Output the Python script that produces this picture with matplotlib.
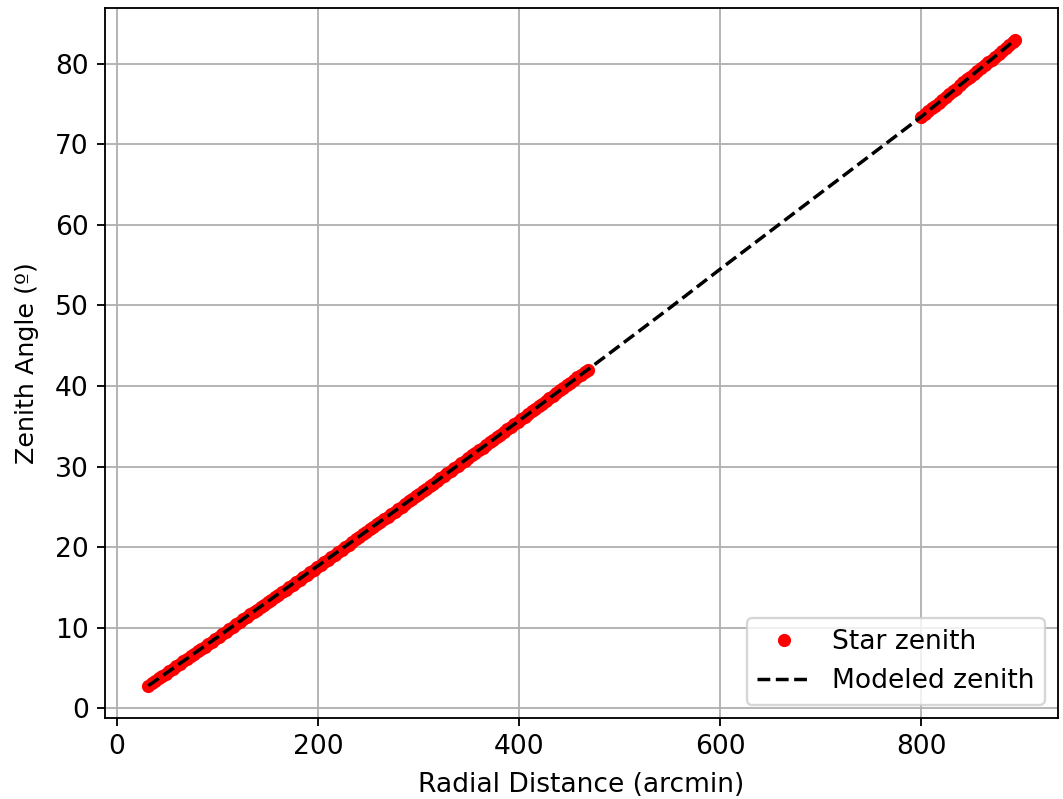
import matplotlib
matplotlib.use("Agg")
import matplotlib.pyplot as plt

plt.rcParams['font.size'] = 11.5

# measured star positions: radial distance on the sensor (arcmin) vs zenith angle (deg)
# inner field
inner_r = [31, 34.5, 38, 41.5, 45, 48.5, 52, 55.5, 59, 62.5, 66, 69.5, 73,
           76.5, 80, 83.5, 87, 90.5, 94, 97.5, 101, 104.5, 108, 111.5, 115,
           118.5, 122, 125.5, 129, 132.5, 136, 139.5, 143, 146.5, 150, 153.5,
           157, 160.5, 164, 167.5, 171, 174.5, 178, 181.5, 185, 188.5, 192,
           195.5, 199, 202.5, 206, 209.5, 213, 216.5, 220, 223.5, 227, 230.5,
           234, 237.5, 241, 244.5, 248, 251.5, 255, 258.5, 262, 265.5, 269,
           272.5, 276, 279.5, 283, 286.5, 290, 293.5, 297, 300.5, 304, 307.5,
           311, 314.5, 318, 321.5, 325, 328.5, 332, 335.5, 339, 342.5, 346,
           349.5, 353, 356.5, 360, 363.5, 367, 370.5, 374, 377.5, 381, 384.5,
           388, 391.5, 395, 398.5, 402, 405.5, 409, 412.5, 416, 419.5, 423,
           426.5, 430, 433.5, 437, 440.5, 444, 447.5, 451, 454.5, 458, 461.5,
           465, 468]
inner_z = [2.80, 3.10, 3.40, 3.71, 4.01, 4.31, 4.62, 4.92, 5.22, 5.53, 5.83,
           6.13, 6.44, 6.74, 7.05, 7.35, 7.66, 7.96, 8.27, 8.57, 8.88, 9.18,
           9.49, 9.80, 10.10, 10.41, 10.72, 11.02, 11.33, 11.64, 11.95, 12.25,
           12.56, 12.87, 13.18, 13.49, 13.80, 14.10, 14.41, 14.72, 15.03,
           15.34, 15.65, 15.96, 16.27, 16.58, 16.89, 17.20, 17.52, 17.83,
           18.14, 18.45, 18.76, 19.07, 19.39, 19.70, 20.01, 20.32, 20.64,
           20.95, 21.26, 21.58, 21.89, 22.20, 22.52, 22.83, 23.15, 23.46,
           23.78, 24.09, 24.41, 24.72, 25.04, 25.35, 25.67, 25.99, 26.30,
           26.62, 26.94, 27.25, 27.57, 27.89, 28.21, 28.52, 28.84, 29.16,
           29.48, 29.80, 30.12, 30.43, 30.75, 31.07, 31.39, 31.71, 32.03,
           32.35, 32.67, 32.99, 33.31, 33.63, 33.96, 34.28, 34.60, 34.92,
           35.24, 35.56, 35.89, 36.21, 36.53, 36.85, 37.18, 37.50, 37.82,
           38.14, 38.47, 38.79, 39.12, 39.44, 39.77, 40.09, 40.42, 40.74,
           41.07, 41.39, 41.72, 42.00]
# outer field
outer_r = [800, 803.5, 807, 810.5, 814, 817.5, 821, 824.5, 828, 831.5, 835,
           838.5, 842, 845.5, 849, 852.5, 856, 859.5, 863, 866.5, 870, 873.5,
           877, 880.5, 884, 887.5, 891, 893]
outer_z = [73.4, 73.75, 74.1, 74.45, 74.8, 75.15, 75.5, 75.85, 76.2, 76.55,
           76.9, 77.3, 77.7, 78.05, 78.4, 78.75, 79.1, 79.45, 79.8, 80.15,
           80.5, 80.85, 81.2, 81.55, 81.9, 82.3, 82.7, 82.9]

# fitted lens model, sampled along the full range
model_r = [31, 100, 200, 300, 400, 468, 550, 600, 700, 800, 850, 893]
model_z = [2.8, 8.85, 17.7, 26.6, 35.7, 42.0, 49.7, 54.5, 63.95, 73.4, 78.5, 82.9]

fig = plt.figure(figsize=(1063 / 166, 799 / 166), dpi=166)
ax = fig.add_axes([105 / 1063, 1 - 718 / 799, (1058 - 105) / 1063, (718 - 8) / 799])

ax.plot(inner_r + outer_r, inner_z + outer_z, 'o', color='red', markersize=4.7,
        linestyle='none', label='Star zenith')
ax.plot(model_r, model_z, 'k--', linewidth=1.5, label='Modeled zenith')

ax.set_xlabel('Radial Distance (arcmin)', labelpad=5)
ax.set_ylabel('Zenith Angle (º)', fontsize=11, labelpad=7)
ax.grid(True)
ax.legend(loc='lower right')

fig.savefig('out.png', dpi=166)
